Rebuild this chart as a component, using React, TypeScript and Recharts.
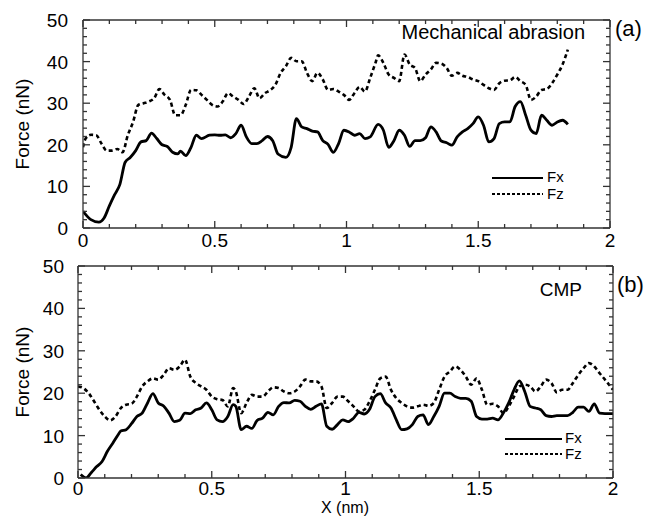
import { LineChart, Line, XAxis, YAxis } from "recharts";

// panel (a) mechanical abrasion
const topFxX = [0, 0.03, 0.06, 0.08, 0.1, 0.12, 0.14, 0.16, 0.18, 0.2, 0.22, 0.24, 0.26, 0.28, 0.3, 0.32, 0.34, 0.36, 0.37, 0.39, 0.41, 0.43, 0.45, 0.48, 0.5, 0.52, 0.54, 0.56, 0.58, 0.6, 0.62, 0.64, 0.66, 0.68, 0.7, 0.72, 0.74, 0.77, 0.79, 0.81, 0.83, 0.85, 0.87, 0.89, 0.91, 0.93, 0.95, 0.97, 0.99, 1.01, 1.03, 1.05, 1.07, 1.09, 1.12, 1.14, 1.16, 1.18, 1.2, 1.22, 1.24, 1.26, 1.28, 1.3, 1.32, 1.34, 1.36, 1.38, 1.4, 1.42, 1.44, 1.46, 1.48, 1.5, 1.52, 1.54, 1.56, 1.58, 1.6, 1.62, 1.64, 1.66, 1.68, 1.7, 1.72, 1.74, 1.76, 1.78, 1.8, 1.82, 1.84];
const topFx = [4, 2, 1.4, 2.4, 5.3, 8, 10.5, 15.8, 17, 18.6, 20.7, 21, 22.8, 21.5, 20, 19.6, 18.2, 17.8, 18.5, 17.4, 19.4, 22.3, 21.5, 22.3, 22.4, 22.3, 22.4, 21.7, 22.7, 24.7, 21.9, 20.3, 20.3, 21, 22, 21, 17.8, 17, 19.4, 26.3, 24.3, 23.9, 23.3, 23.1, 21, 20.1, 18.2, 20.3, 23.5, 23.1, 22.3, 22.7, 21.5, 21.9, 24.9, 23.5, 19.4, 21, 23.5, 22.3, 19.6, 21, 21, 21.7, 24.3, 23.1, 20.9, 20.5, 19.9, 21.9, 23.1, 23.9, 25.1, 26.7, 24.7, 20.7, 21.5, 25.1, 25.5, 25.5, 29.2, 30.4, 27.1, 23.5, 22.7, 27.1, 25.9, 24.7, 25.5, 25.9, 24.9];
const topFzX = [0, 0.01, 0.03, 0.05, 0.07, 0.09, 0.11, 0.13, 0.15, 0.17, 0.19, 0.21, 0.23, 0.25, 0.27, 0.29, 0.31, 0.33, 0.35, 0.37, 0.39, 0.41, 0.43, 0.45, 0.47, 0.49, 0.51, 0.53, 0.55, 0.57, 0.59, 0.61, 0.63, 0.65, 0.67, 0.69, 0.71, 0.73, 0.75, 0.77, 0.79, 0.81, 0.83, 0.85, 0.87, 0.89, 0.91, 0.93, 0.95, 0.97, 0.99, 1.01, 1.03, 1.05, 1.07, 1.09, 1.11, 1.12, 1.14, 1.16, 1.18, 1.2, 1.22, 1.24, 1.26, 1.28, 1.3, 1.32, 1.34, 1.36, 1.38, 1.4, 1.42, 1.44, 1.46, 1.48, 1.5, 1.52, 1.54, 1.56, 1.58, 1.6, 1.62, 1.64, 1.66, 1.68, 1.7, 1.72, 1.74, 1.76, 1.78, 1.8, 1.82, 1.84];
const topFz = [19.4, 21.5, 22.4, 22.3, 20.3, 18.6, 18.6, 19, 18.2, 22.3, 25.5, 29.6, 30, 30.4, 31.2, 33.4, 32, 30.8, 27.1, 27.1, 29.6, 33.2, 33.1, 32, 30.8, 29.6, 29.2, 30.4, 32.4, 31.6, 30.8, 29.8, 31.6, 33.6, 31.2, 32.4, 33.1, 34.4, 37.3, 38.9, 40.9, 40.1, 40.1, 37.3, 35.3, 37.3, 35.7, 33.2, 33.4, 32.8, 32, 30.8, 32.4, 33.9, 32.8, 36.1, 39.7, 41.5, 39.7, 36.9, 36.1, 35.3, 41.7, 39.3, 38.5, 35.3, 36.9, 38.1, 39.7, 39.5, 38.5, 36.6, 37.3, 36.6, 36.3, 35.7, 35.3, 34.4, 33.6, 33.2, 34.8, 35.4, 35.5, 36.3, 35.3, 34.4, 30.8, 31.6, 33.2, 33.4, 34.8, 36.9, 39.3, 42.9];

// panel (b) CMP
const botFxX = [0.01, 0.03, 0.05, 0.07, 0.09, 0.11, 0.13, 0.15, 0.16, 0.18, 0.2, 0.22, 0.24, 0.26, 0.28, 0.3, 0.32, 0.34, 0.36, 0.38, 0.4, 0.42, 0.44, 0.46, 0.48, 0.5, 0.52, 0.54, 0.56, 0.58, 0.59, 0.61, 0.63, 0.65, 0.67, 0.69, 0.71, 0.73, 0.75, 0.77, 0.79, 0.81, 0.83, 0.85, 0.87, 0.89, 0.91, 0.93, 0.95, 0.97, 0.99, 1.01, 1.03, 1.05, 1.07, 1.09, 1.11, 1.13, 1.15, 1.17, 1.19, 1.21, 1.23, 1.25, 1.27, 1.29, 1.31, 1.33, 1.35, 1.37, 1.39, 1.41, 1.43, 1.45, 1.47, 1.49, 1.51, 1.53, 1.55, 1.57, 1.59, 1.61, 1.63, 1.65, 1.67, 1.69, 1.71, 1.73, 1.75, 1.77, 1.79, 1.81, 1.83, 1.85, 1.87, 1.89, 1.91, 1.93, 1.95, 1.97, 2];
const botFx = [0.8, 0, 1.3, 2.7, 3.9, 6.3, 8.2, 10.2, 11.1, 11.4, 12.8, 14.5, 15.3, 17.7, 19.9, 17.7, 17, 15.3, 13.3, 13.6, 15.3, 15.2, 16.1, 16.5, 17.7, 16.1, 13.7, 13.3, 14.5, 17.3, 16.9, 11.4, 12.2, 11.7, 13.6, 14.1, 15.5, 14.9, 16.9, 17.8, 17.7, 18.3, 18.1, 16.9, 16.2, 16.9, 17.5, 12.2, 11.5, 12.6, 13.7, 13.3, 14.1, 15.5, 15.1, 16.2, 19.2, 19.9, 17.7, 16.5, 13.7, 11.4, 11.6, 12.6, 14.5, 14.9, 12.6, 14.5, 16.9, 20, 20, 19.2, 18.8, 18.8, 18.1, 14.5, 13.9, 13.9, 14.1, 13.7, 15.3, 17.7, 20.8, 22.9, 20.4, 16.9, 16.5, 16.1, 14.7, 14.5, 14.7, 14.7, 14.7, 15.5, 16.7, 16.7, 15.7, 17.5, 15.3, 15.2, 15.2];
const botFzX = [0, 0.02, 0.04, 0.06, 0.08, 0.1, 0.12, 0.14, 0.16, 0.18, 0.2, 0.22, 0.24, 0.26, 0.28, 0.3, 0.32, 0.34, 0.36, 0.38, 0.4, 0.42, 0.44, 0.46, 0.48, 0.5, 0.52, 0.54, 0.56, 0.58, 0.59, 0.61, 0.63, 0.65, 0.67, 0.69, 0.71, 0.73, 0.75, 0.77, 0.79, 0.81, 0.83, 0.85, 0.87, 0.89, 0.91, 0.93, 0.95, 0.97, 0.99, 1.01, 1.03, 1.05, 1.07, 1.09, 1.11, 1.13, 1.15, 1.17, 1.19, 1.21, 1.23, 1.25, 1.27, 1.29, 1.31, 1.33, 1.35, 1.37, 1.39, 1.41, 1.43, 1.45, 1.47, 1.49, 1.51, 1.53, 1.55, 1.57, 1.59, 1.61, 1.63, 1.65, 1.67, 1.69, 1.71, 1.73, 1.75, 1.77, 1.79, 1.81, 1.83, 1.85, 1.87, 1.89, 1.91, 1.93, 1.95, 1.97, 2];
const botFz = [21.6, 21.2, 20, 18.1, 16.1, 14.5, 13.6, 14.5, 16.5, 17.3, 17.5, 19.2, 21.6, 22.8, 23.5, 23.2, 24.3, 25.9, 25.5, 26.3, 27.9, 23.9, 22.4, 21.6, 20.8, 19.2, 18.6, 18.4, 16.9, 21.2, 20.4, 15.3, 17.7, 19.6, 19.2, 19.2, 20.4, 21.4, 21.2, 20.4, 20, 20.4, 21.6, 23.2, 22.8, 22.8, 21.6, 16.5, 17.7, 19.2, 19.2, 18.1, 16.9, 15.7, 16.1, 18.1, 20.8, 23.5, 23.9, 20.8, 18.8, 17.7, 16.9, 16.6, 16.9, 17.3, 17, 17.7, 20.8, 23.9, 25.1, 26.3, 25.5, 23.9, 22, 23.5, 20.8, 17.3, 17.5, 16.9, 15.3, 16.9, 19.2, 21.6, 22, 21.6, 20.4, 21.6, 23.2, 22.4, 20.2, 20.8, 20.8, 22.4, 24.3, 25.9, 27.1, 26.3, 24.7, 23.2, 20.8];

const xTicks = [0, 0.1, 0.2, 0.3, 0.4, 0.5, 0.6, 0.7, 0.8, 0.9, 1, 1.1, 1.2, 1.3, 1.4, 1.5, 1.6, 1.7, 1.8, 1.9, 2];
const xMajor = [0, 0.5, 1, 1.5, 2];
const yTicks = [0, 2, 4, 6, 8, 10, 12, 14, 16, 18, 20, 22, 24, 26, 28, 30, 32, 34, 36, 38, 40, 42, 44, 46, 48, 50];
const yMajor = [0, 10, 20, 30, 40, 50];

const FONT = "'Liberation Sans', Arial, Helvetica, sans-serif";
const INK = "#000";
const FRAME = "#333";
const FRAME_W = 1.3;

const toPoints = (xs: number[], ys: number[]) => xs.map((x, i) => ({ x, y: ys[i] }));

type Box = { left: number; right: number; top: number; bottom: number };

// tick marks point inward, on both opposite sides of the frame
function XTick(props: any) {
  const { x, y, payload, box, labelDy } = props;
  const v = payload.value;
  const major = xMajor.includes(v);
  const len = major ? 7 : 4;
  return (
    <g>
      <line x1={x} x2={x} y1={y} y2={y - len} stroke={FRAME} strokeWidth={FRAME_W} />
      <line x1={x} x2={x} y1={box.top} y2={box.top + len} stroke={FRAME} strokeWidth={FRAME_W} />
      {major && (
        <text x={x} y={y + labelDy} textAnchor="middle" fontSize={19} fontFamily={FONT} fill={INK}>
          {String(v)}
        </text>
      )}
    </g>
  );
}

function YTick(props: any) {
  const { x, y, payload, box, labelDx } = props;
  const v = payload.value;
  const major = yMajor.includes(v);
  const len = major ? 7 : 4;
  return (
    <g>
      <line x1={x} x2={x + len} y1={y} y2={y} stroke={FRAME} strokeWidth={FRAME_W} />
      <line x1={box.right} x2={box.right - len} y1={y} y2={y} stroke={FRAME} strokeWidth={FRAME_W} />
      {major && (
        <text x={x - labelDx} y={y + 7} textAnchor="end" fontSize={19} fontFamily={FONT} fill={INK}>
          {String(v)}
        </text>
      )}
    </g>
  );
}

function Panel({ box, fx, fz, labelDy, labelDx }: { box: Box; fx: any[]; fz: any[]; labelDy: number; labelDx: number }) {
  const W = 663;
  const H = 516;
  return (
    <div style={{ position: "absolute", left: 0, top: 0 }}>
      <LineChart
        width={W}
        height={H}
        margin={{ top: box.top, right: W - box.right, bottom: 0, left: 0 }}
      >
        <XAxis
          dataKey="x"
          type="number"
          domain={[0, 2]}
          ticks={xTicks}
          interval={0}
          height={H - box.bottom}
          axisLine={{ stroke: FRAME, strokeWidth: FRAME_W }}
          tickLine={false}
          tickSize={0}
          tickMargin={0}
          tick={(p: any) => <XTick {...p} box={box} labelDy={labelDy} />}
          allowDataOverflow
        />
        <YAxis
          dataKey="y"
          type="number"
          domain={[0, 50]}
          ticks={yTicks}
          interval={0}
          width={box.left}
          axisLine={{ stroke: FRAME, strokeWidth: FRAME_W }}
          tickLine={false}
          tickSize={0}
          tickMargin={0}
          tick={(p: any) => <YTick {...p} box={box} labelDx={labelDx} />}
          allowDataOverflow
        />
        <Line
          data={fz}
          dataKey="y"
          type="monotone"
          stroke={INK}
          strokeWidth={2.6}
          strokeDasharray="4 3"
          dot={false}
          isAnimationActive={false}
        />
        <Line
          data={fx}
          dataKey="y"
          type="monotone"
          stroke={INK}
          strokeWidth={2.8}
          dot={false}
          isAnimationActive={false}
        />
      </LineChart>
    </div>
  );
}

const topBox: Box = { left: 83, right: 610, top: 20, bottom: 228 };
const botBox: Box = { left: 78, right: 613, top: 266, bottom: 478 };

// top and right edges of the box (left/bottom come from the axes)
function PlotFrame({ box }: { box: Box }) {
  const { left, right, top, bottom } = box;
  return (
    <g>
      <line x1={left} x2={right} y1={top} y2={top} stroke={FRAME} strokeWidth={FRAME_W} />
      <line x1={right} x2={right} y1={top} y2={bottom} stroke={FRAME} strokeWidth={FRAME_W} />
    </g>
  );
}

export default function App() {
  const txt = { fontFamily: FONT, fill: INK };
  return (
    <div style={{ position: "absolute", left: 0, top: 0, width: 663, height: 516, background: "#fff" }}>
      <Panel box={topBox} fx={toPoints(topFxX, topFx)} fz={toPoints(topFzX, topFz)} labelDy={19} labelDx={15} />
      <Panel box={botBox} fx={toPoints(botFxX, botFx)} fz={toPoints(botFzX, botFz)} labelDy={17} labelDx={14} />
      <svg width={663} height={516} style={{ position: "absolute", left: 0, top: 0, pointerEvents: "none" }}>
        <PlotFrame box={topBox} />
        <PlotFrame box={botBox} />
        <text {...txt} x={22} y={124} fontSize={19} textAnchor="middle" dominantBaseline="central" transform="rotate(-90 22 124)">
          Force (nN)
        </text>
        <text {...txt} x={22} y={372} fontSize={19} textAnchor="middle" dominantBaseline="central" transform="rotate(-90 22 372)">
          Force (nN)
        </text>
        <text {...txt} x={345} y={513} fontSize={16} textAnchor="middle">X (nm)</text>

        <text {...txt} x={585} y={39} fontSize={20} textAnchor="end">Mechanical abrasion</text>
        <text {...txt} x={615} y={36} fontSize={22}>(a)</text>
        <text {...txt} x={582} y={296} fontSize={19} textAnchor="end">CMP</text>
        <text {...txt} x={617} y={292} fontSize={22}>(b)</text>

        <line x1={492} x2={543} y1={178} y2={178} stroke={INK} strokeWidth={2} />
        <line x1={492} x2={543} y1={194} y2={194} stroke={INK} strokeWidth={2} strokeDasharray="3 2" />
        <text {...txt} x={547} y={182} fontSize={15}>Fx</text>
        <text {...txt} x={547} y={199} fontSize={15}>Fz</text>

        <line x1={505} x2={562} y1={439} y2={439} stroke={INK} strokeWidth={2} />
        <line x1={505} x2={562} y1={454} y2={454} stroke={INK} strokeWidth={2} strokeDasharray="3 2" />
        <text {...txt} x={565} y={443} fontSize={15}>Fx</text>
        <text {...txt} x={565} y={459} fontSize={15}>Fz</text>
      </svg>
    </div>
  );
}
